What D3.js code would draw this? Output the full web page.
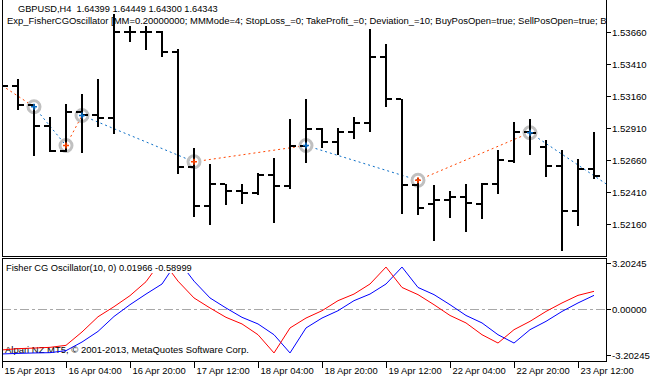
<!DOCTYPE html>
<html><head><meta charset="utf-8">
<script src="https://cdn.jsdelivr.net/npm/d3@7"></script>
<style>
html,body{margin:0;padding:0;background:#fff;}
svg{display:block;font-family:"Liberation Sans",Arial,sans-serif;}
</style></head><body>
<svg id="c" width="656" height="378"></svg>
<script>
// ---- data ----
const symbolTitle = "GBPUSD,H4  1.64399 1.64449 1.64300 1.64343";
const expertTitle = "Exp_FisherCGOscillator [MM=0.20000000; MMMode=4; StopLoss_=0; TakeProfit_=0; Deviation_=10; BuyPosOpen=true; SellPosOpen=true; ";
const expertTail = "B";
const indicatorTitle = "Fisher CG Oscillator(10, 0) 0.01966 -0.58999";
const copyright = "Alpari NZ MT5, \u00A9 2001-2013, MetaQuotes Software Corp.";

const opens  = [1.53260,1.53242,1.53088,1.52924,1.52734,1.53033,1.53008,1.52990,1.53662,1.53662,
                1.53660,1.53502,1.52604,1.52299,1.52469,1.52416,1.52404,1.52539,1.52455,1.52773,
                1.52904,1.52799,1.52877,1.52951,1.53463,1.53133,1.52463,1.52320,1.52351,1.52369,
                1.52318,1.52476,1.52651,1.52877,1.52763,1.52612,1.52260,1.52586];
const highs  = [1.53290,1.53294,1.53094,1.52998,1.53099,1.53172,1.53294,1.53797,1.53705,1.53705,
                1.53666,1.53529,1.52755,1.52625,1.52474,1.52474,1.52560,1.52677,1.52984,1.53133,
                1.52912,1.52912,1.52998,1.53685,1.53570,1.53138,1.52521,1.52461,1.52416,1.52469,
                1.52482,1.52742,1.52958,1.52984,1.52820,1.52742,1.52664,1.52880];
const lows   = [1.53220,1.53055,1.52698,1.52729,1.52729,1.52724,1.52924,1.52873,1.53588,1.53529,
                1.53471,1.52555,1.52221,1.52162,1.52318,1.52326,1.52398,1.52177,1.52443,1.52643,
                1.52760,1.52708,1.52833,1.52885,1.53080,1.52248,1.52240,1.52033,1.52216,1.52109,
                1.52208,1.52404,1.52646,1.52708,1.52533,1.51955,1.52156,1.52521];
const closes = [1.53242,1.53088,1.52924,1.52734,1.53033,1.53008,1.52990,1.53662,1.53662,1.53660,
                1.53502,1.52604,1.52299,1.52469,1.52416,1.52404,1.52539,1.52455,1.52773,1.52904,
                1.52799,1.52877,1.52951,1.53463,1.53133,1.52463,1.52287,1.52351,1.52369,1.52326,
                1.52476,1.52658,1.52877,1.52873,1.52612,1.52260,1.52586,1.52533];

// zigzag of trade signals
const zzBars   = [0, 2, 4, 5, 12, 19, 26, 33, 38];
const zzPrices = [1.53242,1.53076,1.52773,1.53008,1.52646,1.52773,1.52502,1.52873,1.52453];
const zzSegDir = ["buy","sell","buy","sell","buy","sell","buy","sell"];
const signalBars  = [2, 4, 5, 12, 19, 26, 33];
const signalTypes = ["sell","buy","sell","buy","sell","buy","sell"];

// Fisher CG oscillator
const fisherMain = [-2.85,-2.76,-2.72,-2.67,-2.53,-1.60,-0.54,0.16,0.93,1.90,
                    3.43,1.94,0.77,0.07,-0.58,-1.04,-1.79,-3.06,-1.32,-0.63,
                    -0.12,0.58,1.04,1.74,2.92,1.50,1.00,0.30,-0.45,-0.97,
                    -1.79,-2.37,-1.44,-0.86,-0.17,0.42,0.95,1.23];
const fisherTrigger = [-3.13,-3.09,-3.06,-3.04,-2.90,-2.30,-1.56,-0.52,0.30,1.04,
                    1.74,3.40,1.94,0.77,0.07,-0.58,-1.04,-1.79,-3.06,-1.32,
                    -0.63,-0.12,0.58,1.04,1.74,2.92,1.50,1.00,0.30,-0.45,
                    -0.97,-1.79,-2.37,-1.44,-0.86,-0.17,0.42,0.95];

const priceTicks = [1.53660,1.53410,1.53160,1.52910,1.52660,1.52410,1.52160];
const oscTicks = [3.20245, 0, -3.20245];
const timeTickBars = [0,4,8,12,16,20,24,28,32,36];
const timeTickLabels = ["15 Apr 2013","16 Apr 04:00","16 Apr 20:00","17 Apr 12:00","18 Apr 04:00",
                        "18 Apr 20:00","19 Apr 12:00","22 Apr 04:00","22 Apr 20:00","23 Apr 12:00"];

// ---- layout ----
const svg = d3.select("#c");
const L = 2, R = 606;
const mainBottom = 256, oscTop = 258, oscBottom = 361;
const x = d3.scaleLinear().domain([0, 37]).range([2, 594]);
const y = d3.scaleLinear().domain([1.52160, 1.53660]).range([224, 32]);
const yi = d3.scaleLinear().domain([-3.20245, 3.20245]).range([355, 263]);
const C = { buy: "#ff4500", sell: "#0b6ec6" };

const defs = svg.append("defs");
defs.append("clipPath").attr("id","clipMain").append("rect")
  .attr("x", L).attr("y", 0).attr("width", R - L).attr("height", mainBottom);
defs.append("clipPath").attr("id","clipOsc").append("rect")
  .attr("x", L).attr("y", oscTop + 1).attr("width", R - L).attr("height", oscBottom - oscTop - 1);

function fitWidth(sel, w, base) {
  sel.style("font-size", base + "px");
  const cur = sel.node().getComputedTextLength();
  sel.style("font-size", (base * w / cur).toFixed(3) + "px");
}

// ---- main panel ----
const main = svg.append("g").attr("clip-path","url(#clipMain)");

const t1 = main.append("text").attr("x", 18).attr("y", 12).attr("xml:space","preserve")
  .style("white-space","pre").text(symbolTitle);
fitWidth(t1, 200, 10);
const t2 = svg.append("text").attr("x", 7).attr("y", 24).text(expertTitle + expertTail);
t2.style("font-size","10px");
{
  const w = t2.node().getSubStringLength(0, expertTitle.length);
  t2.style("font-size", (10 * 594 / w).toFixed(3) + "px");
}

// zigzag dotted lines
const zz = zzBars.map((b,i)=>({b, p: zzPrices[i]}));
main.append("g").selectAll("line").data(zzSegDir).join("line")
  .attr("x1",(d,i)=>x(zz[i].b)).attr("y1",(d,i)=>y(zz[i].p))
  .attr("x2",(d,i)=>x(zz[i+1].b)).attr("y2",(d,i)=>y(zz[i+1].p))
  .attr("stroke", d=>C[d]).attr("stroke-width",1).attr("stroke-dasharray","2,3");

// rings
main.append("g").selectAll("circle").data(signalBars).join("circle")
  .attr("cx", d=>x(d)).attr("cy", d=>y(zzPrices[zzBars.indexOf(d)]))
  .attr("r", 6).attr("fill","none").attr("stroke","#c0c0c0").attr("stroke-width",3);

// bars
const bars = main.append("g").attr("fill","#000").attr("shape-rendering","crispEdges");
const idx = opens.map((d,i)=>i);
bars.selectAll("rect.v").data(idx).join("rect").attr("class","v")
  .attr("x", i=>x(i)-1).attr("width",2)
  .attr("y", i=>Math.round(y(highs[i]))).attr("height", i=>Math.round(y(lows[i]))-Math.round(y(highs[i]))+1);
bars.selectAll("rect.o").data(idx).join("rect").attr("class","o")
  .attr("x", i=>x(i)-6).attr("width",5)
  .attr("y", i=>Math.round(y(opens[i]))-1).attr("height",2);
bars.selectAll("rect.c").data(idx).join("rect").attr("class","c")
  .attr("x", i=>x(i)+1).attr("width",5)
  .attr("y", i=>Math.round(y(closes[i]))-1).attr("height",2);

// signal marks
main.append("g").selectAll("path").data(signalBars).join("path")
  .attr("transform", d=>`translate(${x(d)},${y(zzPrices[zzBars.indexOf(d)])})`)
  .attr("d","M-3,0H3M0,-3V3")
  .attr("stroke",(d,i)=>C[signalTypes[i]]).attr("stroke-width",1.6).attr("fill","none");

// ---- oscillator panel ----
const osc = svg.append("g");
osc.append("line").attr("x1",L).attr("x2",R).attr("y1",yi(0)+0.5).attr("y2",yi(0)+0.5)
  .attr("stroke","#a8a8a8").attr("stroke-dasharray","9,3,3,3");
osc.append("text").attr("x",5).attr("y",353).text(copyright).call(s=>fitWidth(s,244,10));

const oscG = osc.append("g").attr("clip-path","url(#clipOsc)");
const lineGen = d3.line().x((d,i)=>x(i)).y(d=>yi(d));
oscG.append("path").datum(fisherTrigger).attr("d",lineGen)
  .attr("fill","none").attr("stroke","#0000ff").attr("stroke-width",1);
oscG.append("path").datum(fisherMain).attr("d",lineGen)
  .attr("fill","none").attr("stroke","#ff0000").attr("stroke-width",1);

osc.append("rect").attr("x",3).attr("y",oscTop+1).attr("width",191).attr("height",14).attr("fill","#fff");
osc.append("text").attr("x",6).attr("y",271).text(indicatorTitle).call(s=>fitWidth(s,186,10));

// ---- frames ----
const fr = svg.append("g").attr("stroke","#000").attr("shape-rendering","crispEdges").attr("fill","none");
fr.append("path").attr("d",`M${L+0.5},0V${mainBottom+0.5}H${R+0.5}V0`);
fr.append("path").attr("d",`M${L+0.5},${oscTop+0.5}V${oscBottom+0.5}H${R+0.5}V${oscTop+0.5}Z`);

// ---- axes ----
function styleAxis(g, fs) {
  g.select(".domain").remove();
  g.selectAll("text").attr("fill","#000").style("font-family","'Liberation Sans',Arial,sans-serif").style("font-size",fs+"px");
  g.selectAll("line").attr("stroke","#000");
}
svg.append("g").attr("transform",`translate(${R},0)`)
  .call(d3.axisRight(y).tickValues(priceTicks).tickFormat(d=>d.toFixed(5)).tickSize(5).tickPadding(1))
  .call(g=>styleAxis(g,9.6));
svg.append("g").attr("transform",`translate(${R},0)`)
  .call(d3.axisRight(yi).tickValues(oscTicks).tickFormat(d=>d.toFixed(5)).tickSize(5).tickPadding(1))
  .call(g=>styleAxis(g,9.6));
svg.append("g").attr("transform",`translate(0,${oscBottom})`)
  .call(d3.axisBottom(x).tickValues(timeTickBars).tickFormat((d,i)=>timeTickLabels[i]).tickSize(7))
  .call(g=>{
    styleAxis(g,9.4);
    g.selectAll("text").attr("text-anchor","start").attr("x",2).attr("y",13).attr("dy",null);
  });
</script>
</body></html>
